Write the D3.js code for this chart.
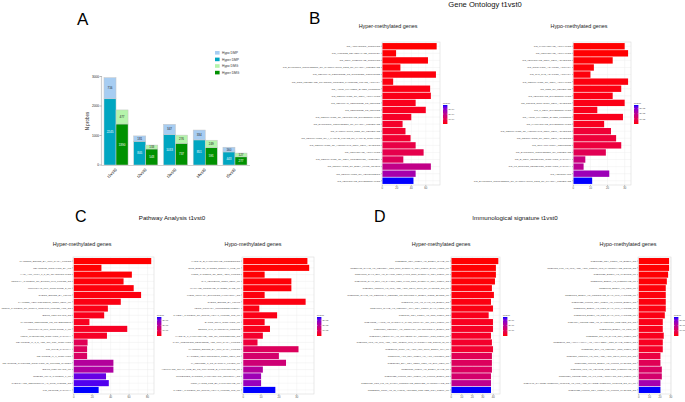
<!DOCTYPE html>
<html><head><meta charset="utf-8">
<script src="https://cdn.jsdelivr.net/npm/d3@7"></script>
<style>body{margin:0;background:#fff}svg{display:block;font-family:"Liberation Sans",Arial,Helvetica,sans-serif}</style>
</head><body><svg id="c" width="685" height="402"></svg>
<script>
// ---------- Panel A data ----------
const contrasts = ["t1vst0","t2vst0","t3vst0","t4vst0","t5vst0"];
const hyperDMP = [2245, 805, 1033, 851, 443];
const hypoDMP  = [716, 181, 347, 334, 160];
const hyperDMG = [1390, 543, 737, 591, 277];
const hypoDMG  = [477, 133, 276, 249, 127];
const yTicksA = [0, 1000, 2000, 3000];
const legendA = ["Hypo DMP","Hyper DMP","Hypo DMG","Hyper DMG"];

// ---------- Panel B: Gene Ontology ----------
const goHyperTerms = ["GO_ANCHORING_JUNCTION","GO_HISTONE_DEACETYLASE_COMPLEX","GO_CELL_SUBSTRATE_JUNCTION",
 "GO_EXTRINSIC_COMPONENT_OF_CYTOPLASMIC_SIDE_OF_PLASMA_MEMBRANE","GO_CELLULAR_RESPONSE_TO_NITROGEN_COMPOUND",
 "GO_NON_MEMBRANE_SPANNING_PROTEIN_TYROSINE_KINASE_ACTIVITY","GO_ACTIN_FILAMENT_BASED_PROCESS",
 "GO_REGULATION_OF_CELL_ACTIVATION","GO_CELLULAR_RESPONSE_TO_PEPTIDE","GO_RESPONSE_TO_PEPTIDE",
 "GO_REGULATION_OF_LEUKOCYTE_DIFFERENTIATION","GO_EXTRINSIC_COMPONENT_OF_PLASMA_MEMBRANE",
 "GO_CYTOPLASMIC_SIDE_OF_MEMBRANE","GO_REGULATION_OF_I_KAPPAB_KINASE_NF_KAPPAB_SIGNALING",
 "GO_REGULATION_OF_HOMOTYPIC_CELL_CELL_ADHESION","GO_LEUKOCYTE_ACTIVATION",
 "GO_REGULATION_OF_CELL_PROJECTION_ASSEMBLY","GO_REGULATION_OF_BODY_FLUID_LEVELS",
 "GO_REGULATION_OF_HEMOPOIESIS","GO_LEUKOCYTE_DIFFERENTIATION"];
const goHyperCounts = [75,19,63,25,74,15,66,67,46,60,40,28,32,39,46,57,29,67,46,43];
const goHyperP = [0.01e-4,0.03e-4,0.05e-4,0.07e-4,0.09e-4,0.12e-4,0.15e-4,0.18e-4,0.22e-4,0.26e-4,
 0.35e-4,0.4e-4,0.45e-4,0.5e-4,0.8e-4,0.9e-4,1.1e-4,1.9e-4,2.5e-4,3.8e-4];

const goHypoTerms = ["GO_LYMPHOCYTE_ACTIVATION","GO_LEUKOCYTE_ACTIVATION","GO_LEUKOCYTE_CELL_CELL_ADHESION",
 "GO_SIGNALING_ADAPTOR_ACTIVITY","GO_SH3_SH2_ADAPTOR_ACTIVITY","GO_REGULATION_OF_CELL_ACTIVATION",
 "GO_SIDE_OF_MEMBRANE","GO_LEUKOCYTE_DIFFERENTIATION","GO_SINGLE_ORGANISM_CELL_ADHESION",
 "GO_T_CELL_DIFFERENTIATION","GO_ACTIN_FILAMENT_BASED_PROCESS","GO_LYMPHOCYTE_DIFFERENTIATION",
 "GO_REGULATION_OF_HOMOTYPIC_CELL_CELL_ADHESION","GO_REGULATION_OF_CELL_CELL_ADHESION",
 "GO_INFLAMMATORY_RESPONSE","GO_EXTRINSIC_COMPONENT_OF_MEMBRANE","GO_B_CELL_RECEPTOR_SIGNALING_PATHWAY",
 "GO_FC_EPSILON_RECEPTOR_SIGNALING_PATHWAY","GO_HEMOSTASIS",
 "GO_EXTRINSIC_COMPONENT_OF_CYTOPLASMIC_SIDE_OF_PLASMA_MEMBRANE"];
const goHypoCounts = [30,32,23,12,10,32,28,23,30,14,29,18,22,25,28,19,7,6,21,11];
const goHypoP = [0.01e-5,0.02e-5,0.04e-5,0.06e-5,0.08e-5,0.1e-5,0.12e-5,0.14e-5,0.16e-5,0.2e-5,0.22e-5,0.25e-5,
 0.55e-5,0.6e-5,0.65e-5,1.0e-5,1.65e-5,2.0e-5,2.6e-5,3.7e-5];

// ---------- Panel C: Pathway analysis ----------
const pwHyperTerms = ["MARTENS_BOUND_BY_PML_RARA_FUSION","REACTOME_SIGNALING_BY_ILS","YAGI_AML_WITH_T_8_21_TRANSLOCATION",
 "TORCHIA_TARGETS_OF_EWSR1_FLI1_FUSION_DN","MULLIGHAN_MLL_SIGNATURE_2_UP","ZHENG_BOUND_BY_FOXP3",
 "JAATINEN_HEMATOPOIETIC_STEM_CELL_UP","TONKS_TARGETS_OF_RUNX1_RUNX1T1_FUSION_HSC_DN","BIDUS_METASTASIS_DN",
 "MARTINEZ_RESPONSE_TO_TRABECTEDIN","MULLIGHAN_MLL_SIGNATURE_1_UP","KEGG_CHEMOKINE_SIGNALING_PATHWAY",
 "REACTOME_IL_3_5_AND_GM_CSF_SIGNALING","PID_CMYB_PATHWAY","REACTOME_IL_6_SIGNALING",
 "REACTOME_CYTOKINE_SIGNALING_IN_IMMUNE_SYSTEM","BIDUS_METASTASIS_UP","NUBLER_KRAS_TARGETS_1_UP",
 "THEILGAARD_NEUTROPHIL_AT_SKIN_WOUND_DN","PID_PDGFRB_PATHWAY"];
const pwHyperCounts = [84,30,63,54,65,73,51,37,33,17,58,36,15,14.5,14.5,43,43,35,38,27];
const pwHyperP = [0.01e-7,0.02e-7,0.04e-7,0.06e-7,0.08e-7,0.1e-7,0.13e-7,0.16e-7,0.2e-7,0.24e-7,0.28e-7,0.32e-7,
 1.0e-7,1.1e-7,1.2e-7,2.1e-7,2.2e-7,3.2e-7,3.35e-7,3.6e-7];

const pwHypoTerms = ["HADDAD_B_LYMPHOCYTE_PROGENITOR","SMID_BREAST_CANCER_NORMAL_LIKE_UP","KLEIN_TARGETS_OF_BCR_ABL1_FUSION",
 "GAL_LEUKEMIC_STEM_CELL_UP","WALLACE_PROSTATE_CANCER_RACE_UP","KLEIN_PRIMARY_EFFUSION_LYMPHOMA_DN",
 "ZHENG_BOUND_BY_FOXP3","KEGG_PRIMARY_IMMUNODEFICIENCY","TAKEDA_TARGETS_OF_NUP98_HOXA9_FUSION_16D_UP",
 "BASSO_CD40_SIGNALING_UP","BOSCO_TH1_CYTOTOXIC_MODULE","HADDAD_T_LYMPHOCYTE_AND_NK_PROGENITOR_DN",
 "PARK_TRETINOIN_RESPONSE_AND_PML_RARA_FUSION","MARTENS_BOUND_BY_PML_RARA_FUSION",
 "JAATINEN_HEMATOPOIETIC_STEM_CELL_DN","LI_INDUCED_T_TO_NATURAL_KILLER_UP",
 "HOFFMANN_SMALL_PRE_BII_TO_IMMATURE_B_LYMPHOCYTE_UP","GUTIERREZ_CHRONIC_LYMPHOCYTIC_LEUKEMIA_DN",
 "MORI_LARGE_PRE_BII_LYMPHOCYTE_UP","TAKEDA_TARGETS_OF_NUP98_HOXA9_FUSION_10D_UP"];
const pwHypoCounts = [36,37,12,27,27,12,35,9,19,12,15,11,8,31,20,24,11,10,10,18];
const pwHypoP = [0.01e-3,0.02e-3,0.03e-3,0.05e-3,0.07e-3,0.09e-3,0.11e-3,0.13e-3,0.16e-3,0.19e-3,0.22e-3,
 0.4e-3,0.6e-3,1.1e-3,1.35e-3,1.5e-3,2.1e-3,2.5e-3,2.6e-3,3.6e-3];

// ---------- Panel D: Immunological signature ----------
const imHyperTerms = ["GSE22886_CD4_TCELL_VS_BCELL_NAIVE_UP",
 "GSE26495_NAIVE_VS_MEMORY_CD8_NOT_OVERLAP_CD4_TCELL_EXCL_LONG_UP",
 "GSE40665_DAY0_EFF_VS_DAY180_MEM_LYMC_NOT_OVERLAP_CD4_TCELL_UP",
 "GSE40665_DAY0_EFF_VS_DAY180_MEM_LYMC_NOT_OVERLAP_CD4_TCELL_DN",
 "GSE7219_UNSTIM_VS_LPS_AND_ANTI_CD40_STIM_NK_MYELOID_DC_UP",
 "GSE11386_NAIVE_VS_GERMINAL_CENTER_TRANSITIONAL_BCELL_CORD_BLOOD_UP",
 "GSE24671_WT_VS_PAX5_KO_BCELL_DN","GSE40960_NAIVE_VS_MEMORY_TFH_CD4_TCELL_DAY0_LONG_UP",
 "GSE3039_CD4_TCELL_VS_CD8_TCELL_DN","GSE40882_AALTO_VS_SYNOVIAL_CANS_PRIMARY_INF_CD4_TCELL_UP",
 "GSE11386_MEMORY_VS_CD21HIGH_TRANSITIONAL_BCELL_DN","GSE11864_TERTIARY_VS_QUATERNARY_MEMORY_CD8_TCELL_UP",
 "GSE9988_LPS_VS_LPS_AND_ANTI_TREM1_LPS_MACROPHAGE_DOWN_IN_UP","GSE21063_CTRL_VS_ANTI_IGM_STIM_BCELL_16H_UP",
 "GSE36078_ACT_CD4_TCELL_VS_ACT_HRTCELL_DN","GSE21927_EPA_CD4_CENT_MEM_VS_EFF_MEM_UP",
 "GSE29888_TCELL_VS_BCELL_NAIVE_UP","GSE10325_LUPUS_CD4_TCELL_VS_LUPUS_BCELL_DN",
 "GSE24026_PD1_KO_VS_CXCL4_MONOCYTE_DERIVED_MACROPHAGE_DN",
 "GSE22886_CTRL_VS_IN_VITRO_ANTIGEN_TREATED_CD4_TCELL_UP"];
const imHyperCounts = [44.8,42.5,42.5,41.6,38.7,40.6,37.8,39.7,35.6,39.7,39.7,37.8,38.7,39.7,38.7,38.7,38.7,37.8,37.8,37.8];
const imHyperP = [0.01e-9,0.02e-9,0.03e-9,0.05e-9,0.07e-9,0.09e-9,0.11e-9,0.13e-9,0.2e-9,0.25e-9,0.3e-9,0.35e-9,0.4e-9,0.45e-9,
 1.0e-9,1.1e-9,1.15e-9,1.35e-9,1.9e-9,3.6e-9];

const imHypoTerms = ["GSE10325_CD4_TCELL_VS_BCELL_DN","GSE9988_LPS_VS_LPS_AND_ANTI_TREM1_LPS_MACROPHAGE_DOWN_DN",
 "GSE10325_BCELL_VS_MYELOID_UP","GSE29618_BCELL_VS_MONOCYTE_UP","GSE29618_BCELL_VS_MDC_UP",
 "GSE29618_BCELL_VS_MONOCYTE_DAY7_FLU_VACCINE_UP","GSE10325_LUPUS_CD4_TCELL_VS_LUPUS_BCELL_DN",
 "GSE29618_BCELL_VS_MDC_DAY7_FLU_VACCINE_UP","GSE29618_BCELL_VS_PDC_DAY7_FLU_VACCINE_UP",
 "GSE4984_UNTREATED_VS_GALECTIN1_TREATED_DC_DN","GSE29618_BCELL_VS_PDC_UP","GSE22886_DC_VS_NAIVE_CD4_TCELL_DN",
 "GSE22601_DN_ALPHAALPHA_VS_ALPHABETA_CD8_NAIVE_TCELL_DN","GSE23321_EFF_VS_MEMORY_CD8_TCELL_DN",
 "GSE7219_UNSTIM_VS_LPS_AND_ANTI_CD40_STIM_DC_DN","GSE10325_LUPUS_BCELL_VS_LUPUS_MYELOID_DN",
 "GSE9988_LPS_VS_VEHICLE_TREATED_MONOCYTE_UP","GSE36826_UNTREATED_VS_IL1_PG2_ADJUVANT_CD4_TCELL_UP",
 "GSE4748_CYANOBACTERIUM_LPSLIKE_VS_LPS_AND_CYANOBACTERIUM_LPSLIKE_DC_3H_UP",
 "GSE10325_LUPUS_CD4_TCELL_VS_LUPUS_MYELOID_DN"];
const imHypoCounts = [28.4,28.4,27.5,26.3,25.3,25.3,25.3,25.3,24.4,22.5,22.5,23.4,22.5,22.5,20.3,20.3,21.6,21.6,20.3,20.3];
const imHypoP = [0.01e-6,0.02e-6,0.03e-6,0.04e-6,0.06e-6,0.08e-6,0.1e-6,0.12e-6,0.14e-6,0.17e-6,0.2e-6,0.23e-6,0.26e-6,0.35e-6,
 0.7e-6,1.0e-6,1.2e-6,1.35e-6,2.4e-6,3.6e-6];

// ================= drawing =================
const svg = d3.select("#c");
svg.append("rect").attr("width",685).attr("height",402).attr("fill","#fff");

function txt(x,y,s,size,opt={}){
  return svg.append("text").attr("x",x).attr("y",y).text(s)
    .attr("font-size",size).attr("fill",opt.fill||"#111")
    .attr("text-anchor",opt.anchor||"start");
}

// ---- Panel A ----
(function(){
  const cols = {hypoDMP:"#a7cdf2", hyperDMP:"#00a6c1", hypoDMG:"#b5f4ab", hyperDMG:"#009100"};
  const x = d3.scaleBand().domain(contrasts).range([101,250]).paddingInner(0.19).paddingOuter(0.1);
  const sub = d3.scaleBand().domain(["DMP","DMG"]).range([0,x.bandwidth()]);
  const y = d3.scaleLinear().domain([0,3000]).range([165,76.5]);
  const g = svg.append("g");
  g.append("line").attr("x1",101.5).attr("x2",250).attr("y1",165.5).attr("y2",165.5).attr("stroke","#d0d0d0").attr("stroke-width",1.2);
  g.append("line").attr("x1",101.5).attr("x2",101.5).attr("y1",76).attr("y2",165.5).attr("stroke","#d0d0d0").attr("stroke-width",1.2);
  yTicksA.forEach(t=>{
    g.append("line").attr("x1",99.5).attr("x2",101.5).attr("y1",y(t)).attr("y2",y(t)).attr("stroke","#555").attr("stroke-width",0.4);
    g.append("text").attr("x",99).attr("y",y(t)).attr("dy","0.35em").attr("text-anchor","end").attr("font-size",3.2).attr("fill","#222").text(t);
  });
  const stacks = [
    {key:"DMP", lower:hyperDMP, upper:hypoDMP, cl:cols.hyperDMP, cu:cols.hypoDMP},
    {key:"DMG", lower:hyperDMG, upper:hypoDMG, cl:cols.hyperDMG, cu:cols.hypoDMG}
  ];
  stacks.forEach(s=>{
    contrasts.forEach((c,i)=>{
      const bx = x(c)+sub(s.key), bw = sub.bandwidth();
      const lo = s.lower[i], up = s.upper[i];
      g.append("rect").attr("x",bx).attr("width",bw).attr("y",y(lo)).attr("height",y(0)-y(lo))
        .attr("fill",s.cl).attr("stroke","#cfcfcf").attr("stroke-width",0.5);
      g.append("rect").attr("x",bx).attr("width",bw).attr("y",y(lo+up)).attr("height",y(lo)-y(lo+up))
        .attr("fill",s.cu).attr("stroke","#c5c5c5").attr("stroke-width",0.5);
      g.append("text").attr("x",bx+bw/2).attr("y",(y(0)+y(lo))/2).attr("dy","0.35em").attr("text-anchor","middle")
        .attr("font-size",3).attr("fill","#fff").text(lo);
      g.append("text").attr("x",bx+bw/2).attr("y",(y(lo)+y(lo+up))/2).attr("dy","0.35em").attr("text-anchor","middle")
        .attr("font-size",3).attr("fill","#222").text(up);
    });
  });
  contrasts.forEach(c=>{
    const cx = x(c)+x.bandwidth()/2;
    g.append("text").attr("transform",`translate(${cx},169) rotate(-45)`).attr("text-anchor","end")
      .attr("dy","0.35em").attr("font-size",4.3).attr("fill","#222").text(c);
  });
  g.append("text").attr("transform","translate(88.5,121) rotate(-90)").attr("text-anchor","middle")
    .attr("font-size",4.5).attr("fill","#222").text("N probes");
  const lc = [cols.hypoDMP, cols.hyperDMP, cols.hypoDMG, cols.hyperDMG];
  legendA.forEach((l,i)=>{
    const ly = 51 + i*6.6;
    g.append("rect").attr("x",215).attr("y",ly).attr("width",4.6).attr("height",3.6).attr("fill",lc[i]);
    g.append("text").attr("x",222).attr("y",ly+1.8).attr("dy","0.35em").attr("font-size",3.3).attr("fill","#333").text(l);
  });
})();

// ---- horizontal bar panels (ggplot style) ----
const colorLow = "#ff0000", colorHigh = "#0000ff";
function fmtP(v){
  const s = d3.format(".0e")(v);
  return s.replace(/e([-+])(\d)$/, "e$10$2");
}
function barPanel(terms, counts, pvals, L){
  const g = svg.append("g");
  const x = d3.scaleLinear().domain(L.domain).range([L.x0, L.x1]);
  const y = d3.scaleBand().domain(terms).range([L.y0, L.y1]).paddingInner(0.1).paddingOuter(0.15);
  const ext = d3.extent(pvals);
  const col = d3.scaleLinear().domain(ext).range([colorLow, colorHigh]).interpolate(d3.interpolateLab);
  g.append("rect").attr("x",L.x0).attr("y",L.y0).attr("width",L.x1-L.x0).attr("height",L.y1-L.y0).attr("fill","#fff");
  const minor = L.ticks.slice(0,-1).map((t,i)=>(t+L.ticks[i+1])/2).concat([L.ticks[L.ticks.length-1]+(L.ticks[1]-L.ticks[0])/2])
     .filter(v=>v<L.domain[1]);
  minor.forEach(t=>g.append("line").attr("x1",x(t)).attr("x2",x(t)).attr("y1",L.y0).attr("y2",L.y1).attr("stroke","#f4f4f4").attr("stroke-width",0.3));
  L.ticks.forEach(t=>g.append("line").attr("x1",x(t)).attr("x2",x(t)).attr("y1",L.y0).attr("y2",L.y1).attr("stroke","#ececec").attr("stroke-width",0.45));
  terms.forEach(t=>g.append("line").attr("x1",L.x0).attr("x2",L.x1).attr("y1",y(t)+y.bandwidth()/2).attr("y2",y(t)+y.bandwidth()/2).attr("stroke","#ececec").attr("stroke-width",0.45));
  g.selectAll("rect.bar").data(terms).join("rect").attr("class","bar")
    .attr("x",x(0)).attr("y",d=>y(d)).attr("height",y.bandwidth())
    .attr("width",(d,i)=>x(counts[i])-x(0)).attr("fill",(d,i)=>col(pvals[i]));
  g.append("rect").attr("x",L.x0).attr("y",L.y0).attr("width",L.x1-L.x0).attr("height",L.y1-L.y0)
    .attr("fill","none").attr("stroke","#dadada").attr("stroke-width",0.6);
  terms.forEach(t=>{
    g.append("line").attr("x1",L.x0-1).attr("x2",L.x0).attr("y1",y(t)+y.bandwidth()/2).attr("y2",y(t)+y.bandwidth()/2).attr("stroke","#444").attr("stroke-width",0.3);
    g.append("text").attr("x",L.x0-1.8).attr("y",y(t)+y.bandwidth()/2).attr("dy","0.35em").attr("text-anchor","end")
      .attr("font-size",2.45).attr("fill","#4d4d4d").text(t);
  });
  L.ticks.forEach(t=>{
    g.append("line").attr("x1",x(t)).attr("x2",x(t)).attr("y1",L.y1).attr("y2",L.y1+1).attr("stroke","#444").attr("stroke-width",0.3);
    g.append("text").attr("x",x(t)).attr("y",L.y1+2.1).attr("dy","0.75em").attr("text-anchor","middle")
      .attr("font-size",2.7).attr("fill","#4d4d4d").text(t);
  });
  g.append("text").attr("x",L.sx).attr("y",L.sy).attr("text-anchor","middle").attr("font-size",5.4).attr("fill","#1a1a1a").text(L.sub);
  const lx = L.x1 + 3, lh = 19, ly = (L.y0+L.y1)/2 - lh/2 + 1;
  const gid = "gr"+L.id;
  const grad = svg.append("defs").append("linearGradient").attr("id",gid).attr("x1",0).attr("x2",0).attr("y1",1).attr("y2",0);
  d3.range(0,1.0001,0.1).forEach(f=>grad.append("stop").attr("offset",f).attr("stop-color",col(ext[0]+f*(ext[1]-ext[0]))));
  g.append("text").attr("x",lx).attr("y",ly-1.3).attr("font-size",2.4).attr("fill","#333").text("pvalue");
  g.append("rect").attr("x",lx).attr("y",ly).attr("width",4.4).attr("height",lh).attr("fill",`url(#${gid})`);
  const ls = d3.scaleLinear().domain([0, ext[1]]).range([ly+lh, ly]);
  const lt = d3.ticks(ext[0], ext[1], 3).filter(v=>v>ext[0]);
  lt.forEach(v=>{
    g.append("line").attr("x1",lx).attr("x2",lx+0.9).attr("y1",ls(v)).attr("y2",ls(v)).attr("stroke","#fff").attr("stroke-width",0.3);
    g.append("line").attr("x1",lx+3.5).attr("x2",lx+4.4).attr("y1",ls(v)).attr("y2",ls(v)).attr("stroke","#fff").attr("stroke-width",0.3);
    g.append("text").attr("x",lx+5.6).attr("y",ls(v)).attr("dy","0.35em").attr("font-size",2.2).attr("fill","#333").text(fmtP(v));
  });
}

barPanel(goHyperTerms, goHyperCounts, goHyperP, {id:1,x0:382,x1:440,y0:42,y1:185,domain:[-0.4,79.6],ticks:[0,20,40,60],sub:"Hyper-methylated genes",sx:388,sy:28});
barPanel(goHypoTerms, goHypoCounts, goHypoP, {id:2,x0:573,x1:631,y0:42,y1:185,domain:[-0.2,33.7],ticks:[0,10,20,30],sub:"Hypo-methylated genes",sx:579,sy:28});
barPanel(pwHyperTerms, pwHyperCounts, pwHyperP, {id:3,x0:73,x1:154,y0:257,y1:394,domain:[-0.8,87],ticks:[0,20,40,60,80],sub:"Hyper-methylated genes",sx:82,sy:246});
barPanel(pwHypoTerms, pwHypoCounts, pwHypoP, {id:4,x0:242,x1:314,y0:257,y1:394,domain:[-0.7,39.7],ticks:[0,10,20,30],sub:"Hypo-methylated genes",sx:253,sy:246});
barPanel(imHyperTerms, imHyperCounts, imHyperP, {id:5,x0:451,x1:500,y0:257,y1:394,domain:[-0.3,46.4],ticks:[0,10,20,30,40],sub:"Hyper-methylated genes",sx:441,sy:246});
barPanel(imHypoTerms, imHypoCounts, imHypoP, {id:6,x0:638,x1:671,y0:257,y1:394,domain:[-0.7,30.2],ticks:[0,10,20,30],sub:"Hypo-methylated genes",sx:628,sy:246});

txt(77,25,"A",17,{fill:"#000"});
txt(309,24,"B",17,{fill:"#000"});
txt(75,222,"C",16,{fill:"#000"});
txt(374,222,"D",16,{fill:"#000"});
txt(485,6.5,"Gene Ontology t1vst0",7.6,{anchor:"middle"});
txt(172,220,"Pathway Analysis t1vst0",6.2,{anchor:"middle"});
txt(515,220,"Immunological signature t1vst0",6.2,{anchor:"middle"});
</script></body></html>
